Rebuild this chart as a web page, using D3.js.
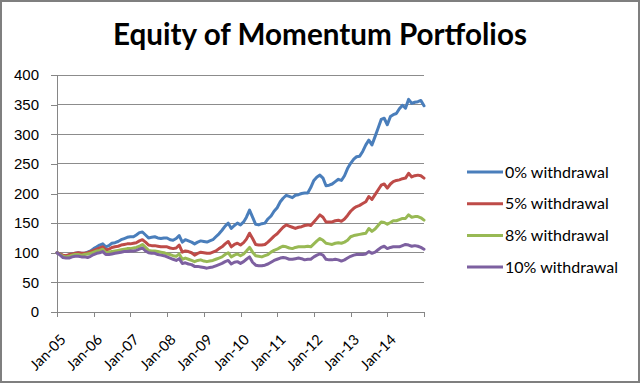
<!DOCTYPE html>
<html>
<head>
<meta charset="utf-8">
<script src="https://cdn.jsdelivr.net/npm/d3@7"></script>
<style>
  body { margin: 0; background: #fff; }
  svg { display: block; font-family: Lato, "Open Sans", sans-serif; }
</style>
</head>
<body>
<div id="chart"></div>
<script>
// Monthly equity, Jan-05 .. Jan-15 (121 points)
const startMonth = new Date(2005, 0, 1);
const tickLabels = ['Jan-05', 'Jan-06', 'Jan-07', 'Jan-08', 'Jan-09', 'Jan-10', 'Jan-11', 'Jan-12', 'Jan-13', 'Jan-14'];
const yTicks = [0, 50, 100, 150, 200, 250, 300, 350, 400];
const seriesNames = ['0% withdrawal', '5% withdrawal', '8% withdrawal', '10% withdrawal'];

const w0 = [100, 98, 95, 94, 96, 98, 99, 100, 99, 99, 101, 103,
  107, 110, 113, 115, 110, 112, 116, 117, 119, 122, 124, 126,
  127, 127, 130, 134, 135, 130, 125, 126, 127, 125, 124, 125,
  125, 122, 121, 124, 129, 118, 122, 120, 118, 115, 118, 120,
  119, 118, 120, 122, 127, 132, 138, 145, 150, 141, 146, 150,
  147, 152, 160, 172, 160, 148, 147, 149, 150, 157, 162, 170,
  176, 186, 192, 197, 195, 193, 197, 198, 200, 201, 201, 210,
  222, 228, 231, 226, 213, 214, 216, 220, 224, 222, 230, 242,
  251, 258, 262, 263, 271, 282, 290, 282, 296, 310, 325, 327,
  316, 330, 333, 335, 343, 349, 344, 359, 352, 354, 355, 357,
  348];
const w5 = [100, 98, 96, 95, 97, 98, 99, 100, 99, 99, 100, 102,
  104, 106, 108, 110, 105, 106, 109, 110, 111, 113, 114, 115,
  115, 116, 117, 120, 122, 118, 113, 112, 112, 111, 110, 110,
  110, 108, 107, 108, 113, 101, 103, 102, 100, 96, 99, 101,
  100, 99, 99, 101, 103, 107, 110, 115, 119, 110, 114, 116,
  113, 117, 123, 133, 124, 114, 113, 113, 114, 118, 123, 128,
  132, 138, 143, 147, 145, 143, 141, 143, 144, 146, 147, 146,
  152, 158, 164, 160, 152, 152, 152, 154, 155, 153, 157, 163,
  170, 175, 178, 180, 183, 186, 195, 190, 198, 206, 214, 216,
  209, 216, 220, 222, 223, 225, 226, 234, 228, 230, 231, 230,
  226];
const w8 = [100, 97, 94, 93, 94, 96, 97, 97, 96, 97, 98, 99,
  101, 103, 104, 106, 100, 101, 102, 103, 104, 105, 106, 107,
  107, 108, 109, 111, 114, 109, 104, 103, 103, 102, 101, 100,
  98, 97, 95, 94, 98, 89, 91, 89, 87, 85, 87, 88,
  86, 85, 86, 87, 89, 91, 93, 97, 100, 93, 96, 98,
  95, 98, 103, 109, 101, 95, 94, 93, 95, 97, 101, 104,
  106, 109, 111, 110, 108, 107, 109, 110, 110, 110, 111, 110,
  115, 120, 124, 121, 116, 115, 114, 116, 117, 116, 118, 121,
  127, 129, 130, 131, 132, 133, 141, 136, 140, 146, 152, 151,
  148, 151, 154, 154, 156, 158, 158, 164, 160, 161, 161, 159,
  155];
const w10 = [100, 96, 92, 91, 91, 93, 94, 94, 93, 93, 92, 94,
  97, 99, 100, 102, 97, 97, 98, 99, 100, 101, 102, 102,
  103, 103, 104, 106, 108, 103, 100, 99, 99, 97, 96, 95,
  93, 91, 89, 87, 90, 82, 83, 81, 80, 77, 77, 76,
  75, 74, 75, 76, 78, 80, 82, 85, 87, 81, 84, 85,
  82, 85, 89, 93, 84, 79, 78, 78, 79, 81, 84, 87,
  89, 91, 92, 91, 89, 89, 90, 91, 90, 88, 89, 89,
  93, 96, 98, 96, 89, 88, 88, 89, 88, 86, 88, 91,
  94, 96, 97, 97, 97, 98, 102, 99, 101, 105, 109, 111,
  107, 109, 110, 110, 110, 112, 114, 113, 111, 112, 111, 109,
  106];

const colors = ['#4a7ebb', '#be4b48', '#98b954', '#7d60a0'];
const seriesValues = [w0, w5, w8, w10];

const W = 640, H = 383;
const plot = { left: 57, right: 424, top: 75, bottom: 312 };

const svg = d3.select('#chart').append('svg')
  .attr('width', W).attr('height', H);

svg.append('rect')
  .attr('x', 1).attr('y', 1).attr('width', W - 2).attr('height', H - 2)
  .attr('fill', '#fff').attr('stroke', '#7f7f7f').attr('stroke-width', 2);

const x = d3.scaleTime()
  .domain([startMonth, d3.timeMonth.offset(startMonth, 120)])
  .range([plot.left, plot.right]);
const y = d3.scaleLinear().domain([0, 400]).range([plot.bottom, plot.top]);

// gridlines
svg.append('g')
  .selectAll('line')
  .data(yTicks.filter(d => d > 0))
  .enter().append('line')
  .attr('x1', plot.left).attr('x2', plot.right)
  .attr('y1', d => y(d)).attr('y2', d => y(d))
  .attr('stroke', '#8c8c8c').attr('stroke-width', 1)
  .attr('shape-rendering', 'crispEdges');

// y axis
const yAxis = svg.append('g')
  .attr('transform', `translate(${plot.left},0)`)
  .call(d3.axisLeft(y).tickValues(yTicks).tickSize(6).tickPadding(12));
yAxis.selectAll('text').style('font-size', '15px').attr('fill', '#000');

// x axis
const tickDates = d3.range(11).map(i => d3.timeYear.offset(startMonth, i));
svg.append('g')
  .attr('transform', `translate(0,${plot.bottom})`)
  .call(d3.axisBottom(x).tickValues(tickDates).tickSize(5).tickFormat(''));
svg.selectAll('.domain, .tick line').attr('stroke', '#868686').attr('shape-rendering', 'crispEdges');

svg.append('g')
  .selectAll('text')
  .data(tickLabels)
  .enter().append('text')
  .attr('transform', (d, i) => `translate(${x(tickDates[i]) + 6},${plot.bottom + 25}) rotate(-45)`)
  .attr('text-anchor', 'end')
  .attr('dy', '0.35em')
  .style('font-size', '14.5px')
  .text(d => d);

// lines
const line = d3.line()
  .x((d, i) => x(d3.timeMonth.offset(startMonth, i)))
  .y(d => y(d));

svg.append('g')
  .selectAll('path')
  .data(seriesValues)
  .enter().append('path')
  .attr('d', line)
  .attr('fill', 'none')
  .attr('stroke', (d, i) => colors[i])
  .attr('stroke-width', 3)
  .attr('stroke-linejoin', 'round')
  .attr('stroke-linecap', 'round');

// title
const title = svg.append('text')
  .attr('x', 320).attr('y', 45)
  .attr('text-anchor', 'middle')
  .style('font-weight', 'bold')
  .style('font-size', '100px')
  .text('Equity of Momentum Portfolios');
const tw = title.node().getComputedTextLength();
title.style('font-size', (100 * 414 / tw) + 'px');

// legend
const legend = svg.append('g');
seriesNames.forEach((name, i) => {
  const ly = 172 + i * 31.7;
  legend.append('line')
    .attr('x1', 467).attr('x2', 503)
    .attr('y1', ly).attr('y2', ly)
    .attr('stroke', colors[i]).attr('stroke-width', 3);
  legend.append('text')
    .attr('x', 505).attr('y', ly)
    .attr('dy', '0.35em')
    .style('font-size', '16px')
    .text(name);
});
</script>
</body>
</html>
